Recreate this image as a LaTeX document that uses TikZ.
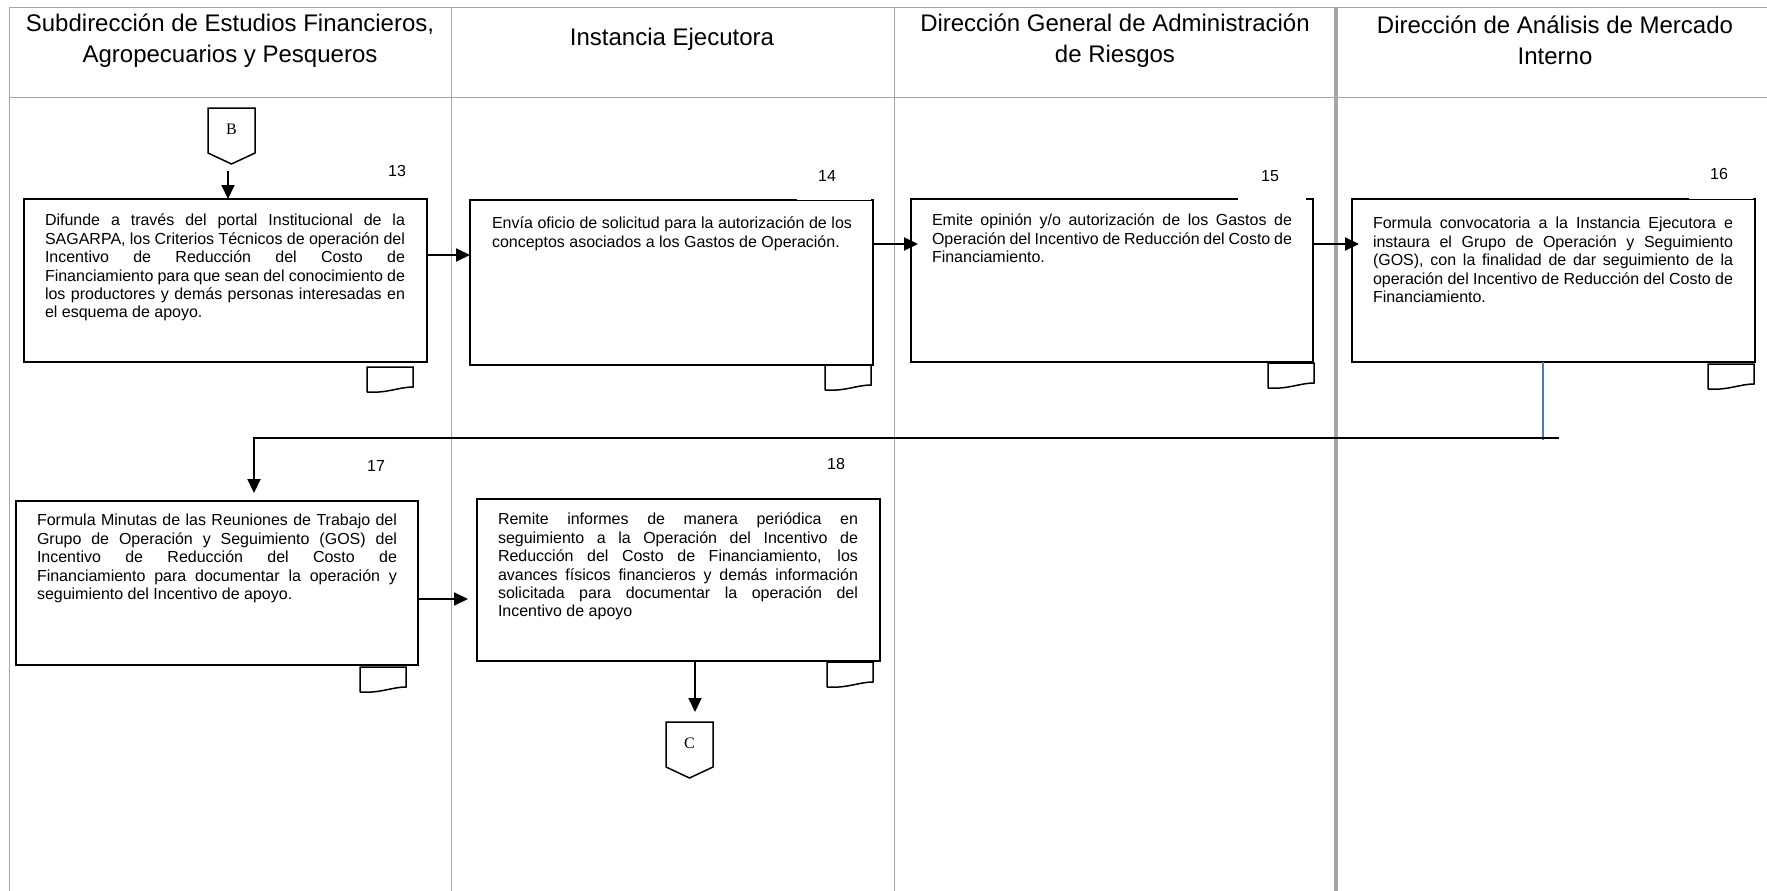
\documentclass[tikz,border=0pt]{standalone}
\usepackage{fontspec}
\setmainfont{Liberation Sans}
\newfontfamily\serifB{Liberation Serif}
\usetikzlibrary{arrows.meta,calc}
\definecolor{gridc}{HTML}{A6A6A6}
\definecolor{bluec}{HTML}{4A7EBB}
\hyphenpenalty=10000
\exhyphenpenalty=10000
\tolerance=10000
\tikzset{
 gridline/.style={draw=gridc, line width=1pt},
 actbox/.style={draw=black, line width=2.5pt, inner sep=0pt, outer sep=0pt},
 bodytext/.style={anchor=north west, inner sep=0pt, outer sep=0pt, text width=360pt, align=justify, font=\fontsize{16}{18.4}\selectfont},
 numtext/.style={inner sep=0pt, font=\fontsize{16}{18.4}\selectfont},
 headtext/.style={inner sep=0pt, align=center, font=\fontsize{24}{31}\selectfont},
 lettertext/.style={inner sep=0pt, font=\serifB\fontsize{16}{18}\selectfont},
 flow/.style={draw=black, line width=2pt, -{Triangle[length=14pt,width=13pt]}},
 docline/.style={draw=black, line width=1.5pt},
 offpage/.style={draw=black, line width=1.5pt, line join=miter},
 bluelink/.style={draw=bluec, line width=1.2pt},
}
\newcommand{\docsym}[2]{\begin{scope}[shift={(#1,#2)}]
 \draw[docline] (0,25) -- (0,0) -- (46,0) -- (46,20) .. controls (32,20) and (20,26.5) .. (0,25);
\end{scope}}
\newcommand{\offpg}[2]{\begin{scope}[shift={(#1,#2)}]
 \draw[offpage] (0,0) -- (47,0) -- (47,45) -- (23.5,56) -- (0,45) -- cycle;
\end{scope}}
\begin{document}
\begin{tikzpicture}[x=1pt,y=-1pt]
\useasboundingbox (0,0) rectangle (1767,891);
% grid
\draw[gridline] (9,8) -- (1767,8);
\draw[gridline] (9,97) -- (1767,97);
\draw[gridline] (9,8) -- (9,891);
\draw[gridline] (451,8) -- (451,891);
\draw[gridline] (894,8) -- (894,891);
\draw[draw=gridc, line width=4pt] (1336,8) -- (1336,891);
% headers
\node[headtext] (h1) at (230,40.5) {Subdirección de Estudios Financieros,\\Agropecuarios y Pesqueros};
\node[headtext] (h2) at (672,39) {Instancia Ejecutora};
\node[headtext] (h3) at (1115,40.5) {Dirección General de Administración\\de Riesgos};
\node[headtext] (h4) at (1555,40.5) {Dirección de Análisis de Mercado\\Interno};
% boxes
\node[actbox, minimum width=403pt, minimum height=163pt] (b13) at (225.5,280.5) {};
\node[actbox, minimum width=403pt, minimum height=165pt] (b14) at (671.5,282.5) {};
\node[actbox, minimum width=402pt, minimum height=163pt] (b15) at (1112,280.5) {};
\node[actbox, minimum width=403pt, minimum height=163pt] (b16) at (1553.5,280.5) {};
\node[actbox, minimum width=402pt, minimum height=164pt] (b17) at (217,583) {};
\node[actbox, minimum width=403pt, minimum height=162pt] (b18) at (678.5,580) {};
% top edge irregularities
\draw[white, line width=3.5pt] (797,200) -- (871,200);
\draw[black, line width=0.9pt] (797,200) -- (873,200);
\draw[white, line width=3.5pt] (1238,199) -- (1306,199);
\draw[white, line width=3.5pt] (1689,199) -- (1753,199);
\draw[black, line width=0.9pt] (1689,199) -- (1755,199);
% texts
\node[bodytext] (t13) at (45,213) {\strut Difunde a través del portal Institucional de la\linebreak SAGARPA, los Criterios Técnicos de operación del\linebreak Incentivo de Reducción del Costo de\linebreak Financiamiento para que sean del conocimiento de\linebreak los productores y demás personas interesadas en\linebreak el esquema de apoyo.};
\node[bodytext] (t14) at (492,216) {\strut Envía oficio de solicitud para la autorización de los\linebreak conceptos asociados a los Gastos de Operación.};
\node[bodytext] (t15) at (932,213) {\strut Emite opinión y/o autorización de los Gastos de\linebreak Operación del Incentivo de Reducción del Costo de\linebreak Financiamiento.};
\node[bodytext] (t16) at (1373,216) {\strut Formula convocatoria a la Instancia Ejecutora e\linebreak instaura el Grupo de Operación y Seguimiento\linebreak (GOS), con la finalidad de dar seguimiento de la\linebreak operación del Incentivo de Reducción del Costo de\linebreak Financiamiento.};
\node[bodytext] (t17) at (37,513) {\strut Formula Minutas de las Reuniones de Trabajo del\linebreak Grupo de Operación y Seguimiento (GOS) del\linebreak Incentivo de Reducción del Costo de\linebreak Financiamiento para documentar la operación y\linebreak seguimiento del Incentivo de apoyo.};
\node[bodytext] (t18) at (498,512) {\strut Remite informes de manera periódica en\linebreak seguimiento a la Operación del Incentivo de\linebreak Reducción del Costo de Financiamiento, los\linebreak avances físicos financieros y demás información\linebreak solicitada para documentar la operación del\linebreak Incentivo de apoyo};
% numbers
\node[numtext] (n13) at (397,171) {13};
\node[numtext] (n14) at (827,176) {14};
\node[numtext] (n15) at (1270,176) {15};
\node[numtext] (n16) at (1719,174) {16};
\node[numtext] (n17) at (376,466) {17};
\node[numtext] (n18) at (836,464) {18};
% documents
\docsym{367}{367}
\docsym{825}{365}
\docsym{1268}{363}
\docsym{1708}{364}
\docsym{360}{667}
\docsym{827}{662}
% off-page connectors
\offpg{208}{108}
\node[lettertext] (B) at (231.5,129) {B};
\offpg{666}{722}
\node[lettertext] (C) at (689.5,743) {C};
% connectors
\coordinate (Bout) at (228,171);
\draw[flow] (Bout) -- (Bout |- b13.north);
\coordinate (y1) at (0,255);
\draw[flow] (b13.east |- y1) -- (b14.west |- y1);
\coordinate (y2) at (0,244);
\draw[flow, shorten >=-7pt] (b14.east |- y2) -- (b15.west |- y2);
\draw[flow, shorten >=-7pt] (b15.east |- y2) -- (b16.west |- y2);
\coordinate (blueb) at (1543,440);
\draw[bluelink] (b16.south -| blueb) -- (blueb);
\coordinate (hr) at (1559,438);
\coordinate (hl) at (254,438);
\draw[flow, shorten >=8pt] (hr) -- (hl) -- (hl |- b17.north);
\coordinate (y3) at (0,599);
\draw[flow, shorten >=9pt] (b17.east |- y3) -- (b18.west |- y3);
\coordinate (Ctop) at (695,722);
\draw[flow, shorten >=10pt] (b18.south -| Ctop) -- (Ctop);
\end{tikzpicture}
\end{document}
